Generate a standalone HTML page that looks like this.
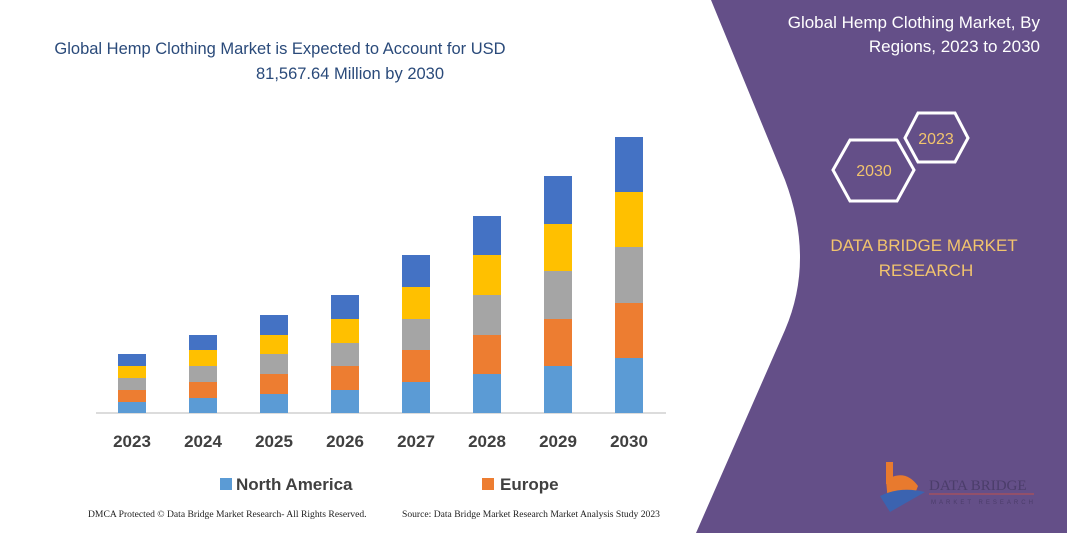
<!DOCTYPE html>
<html><head><meta charset="utf-8"><style>
body{margin:0;width:1067px;height:533px;overflow:hidden;background:#fff;font-family:"Liberation Sans",sans-serif}
</style></head><body>
<svg width="1067" height="533" viewBox="0 0 1067 533" xmlns="http://www.w3.org/2000/svg">
<path d="M711,0 L1067,0 L1067,533 L696,533 L785,330 Q815,260 785,180 Z" fill="#644f88"/>
<g font-family="Liberation Sans, sans-serif">
<text x="280" y="54" text-anchor="middle" font-size="16.5" fill="#2a4a7a">Global Hemp Clothing Market is Expected to Account for USD</text>
<text x="350" y="79" text-anchor="middle" font-size="16.5" fill="#2a4a7a">81,567.64 Million by 2030</text>
<text x="1040" y="28" text-anchor="end" font-size="17" fill="#fff">Global Hemp Clothing Market, By</text>
<text x="1040" y="52" text-anchor="end" font-size="17" fill="#fff">Regions, 2023 to 2030</text>
<polygon points="905,138 918,113 955,113 968,138 955,162 918,162" fill="none" stroke="#fff" stroke-width="3"/>
<text x="936" y="144" text-anchor="middle" font-size="16" fill="#f2c46d">2023</text>
<polygon points="833,170 850,140 897,140 914,170 897,201 850,201" fill="none" stroke="#fff" stroke-width="3"/>
<text x="874" y="176" text-anchor="middle" font-size="16" fill="#f2c46d">2030</text>
<text x="924" y="251" text-anchor="middle" font-size="17" fill="#f2c46d">DATA BRIDGE MARKET</text>
<text x="926" y="276" text-anchor="middle" font-size="17" fill="#f2c46d">RESEARCH</text>
<rect x="886" y="462" width="7" height="22" fill="#e87a2e"/>
<path d="M886,480 Q905,468 918,486 Q912,505 888,502 Z" fill="#e87a2e"/>
<path d="M880,496 Q900,486 925,492 L890,512 Z" fill="#3b63b0"/>
<text x="929" y="490" font-size="15" fill="#4b3d6a" font-family="Liberation Serif, serif">DATA BRIDGE</text>
<line x1="929" y1="494" x2="1034" y2="494" stroke="#c0504d" stroke-width="1"/>
<text x="931" y="504" font-size="6" fill="#4b3d6a" letter-spacing="3">MARKET RESEARCH</text>
</g>
<line x1="96" y1="413" x2="666" y2="413" stroke="#d0d0d0" stroke-width="1.5"/>
<g font-family="Liberation Sans, sans-serif" font-weight="bold" font-size="17" fill="#404040" text-anchor="middle">
<text x="132" y="447">2023</text><text x="203" y="447">2024</text><text x="274" y="447">2025</text><text x="345" y="447">2026</text><text x="416" y="447">2027</text><text x="487" y="447">2028</text><text x="558" y="447">2029</text><text x="629" y="447">2030</text>
</g>
<rect x="220" y="478" width="12" height="12" fill="#5b9bd5"/>
<text x="236" y="490" font-family="Liberation Sans, sans-serif" font-weight="bold" font-size="17" fill="#404040">North America</text>
<rect x="482" y="478" width="12" height="12" fill="#ed7d31"/>
<text x="500" y="490" font-family="Liberation Sans, sans-serif" font-weight="bold" font-size="17" fill="#404040">Europe</text>
<text x="88" y="517" font-family="Liberation Serif, serif" font-size="9.6" fill="#222">DMCA Protected © Data Bridge Market Research- All Rights Reserved.</text>
<text x="402" y="517" font-family="Liberation Serif, serif" font-size="9.6" fill="#222">Source: Data Bridge Market Research Market Analysis Study 2023</text>
<g>
<rect x="118" y="402" width="28" height="11" fill="#5b9bd5"/><rect x="118" y="390" width="28" height="12" fill="#ed7d31"/><rect x="118" y="378" width="28" height="12" fill="#a5a5a5"/><rect x="118" y="366" width="28" height="12" fill="#ffc000"/><rect x="118" y="354" width="28" height="12" fill="#4472c4"/>
<rect x="189" y="398" width="28" height="15" fill="#5b9bd5"/><rect x="189" y="382" width="28" height="16" fill="#ed7d31"/><rect x="189" y="366" width="28" height="16" fill="#a5a5a5"/><rect x="189" y="350" width="28" height="16" fill="#ffc000"/><rect x="189" y="335" width="28" height="15" fill="#4472c4"/>
<rect x="260" y="394" width="28" height="19" fill="#5b9bd5"/><rect x="260" y="374" width="28" height="20" fill="#ed7d31"/><rect x="260" y="354" width="28" height="20" fill="#a5a5a5"/><rect x="260" y="335" width="28" height="19" fill="#ffc000"/><rect x="260" y="315" width="28" height="20" fill="#4472c4"/>
<rect x="331" y="390" width="28" height="23" fill="#5b9bd5"/><rect x="331" y="366" width="28" height="24" fill="#ed7d31"/><rect x="331" y="343" width="28" height="23" fill="#a5a5a5"/><rect x="331" y="319" width="28" height="24" fill="#ffc000"/><rect x="331" y="295" width="28" height="24" fill="#4472c4"/>
<rect x="402" y="382" width="28" height="31" fill="#5b9bd5"/><rect x="402" y="350" width="28" height="32" fill="#ed7d31"/><rect x="402" y="319" width="28" height="31" fill="#a5a5a5"/><rect x="402" y="287" width="28" height="32" fill="#ffc000"/><rect x="402" y="255" width="28" height="32" fill="#4472c4"/>
<rect x="473" y="374" width="28" height="39" fill="#5b9bd5"/><rect x="473" y="335" width="28" height="39" fill="#ed7d31"/><rect x="473" y="295" width="28" height="40" fill="#a5a5a5"/><rect x="473" y="255" width="28" height="40" fill="#ffc000"/><rect x="473" y="216" width="28" height="39" fill="#4472c4"/>
<rect x="544" y="366" width="28" height="47" fill="#5b9bd5"/><rect x="544" y="319" width="28" height="47" fill="#ed7d31"/><rect x="544" y="271" width="28" height="48" fill="#a5a5a5"/><rect x="544" y="224" width="28" height="47" fill="#ffc000"/><rect x="544" y="176" width="28" height="48" fill="#4472c4"/>
<rect x="615" y="358" width="28" height="55" fill="#5b9bd5"/><rect x="615" y="303" width="28" height="55" fill="#ed7d31"/><rect x="615" y="247" width="28" height="56" fill="#a5a5a5"/><rect x="615" y="192" width="28" height="55" fill="#ffc000"/><rect x="615" y="137" width="28" height="55" fill="#4472c4"/>
</g>
</svg>
</body></html>
